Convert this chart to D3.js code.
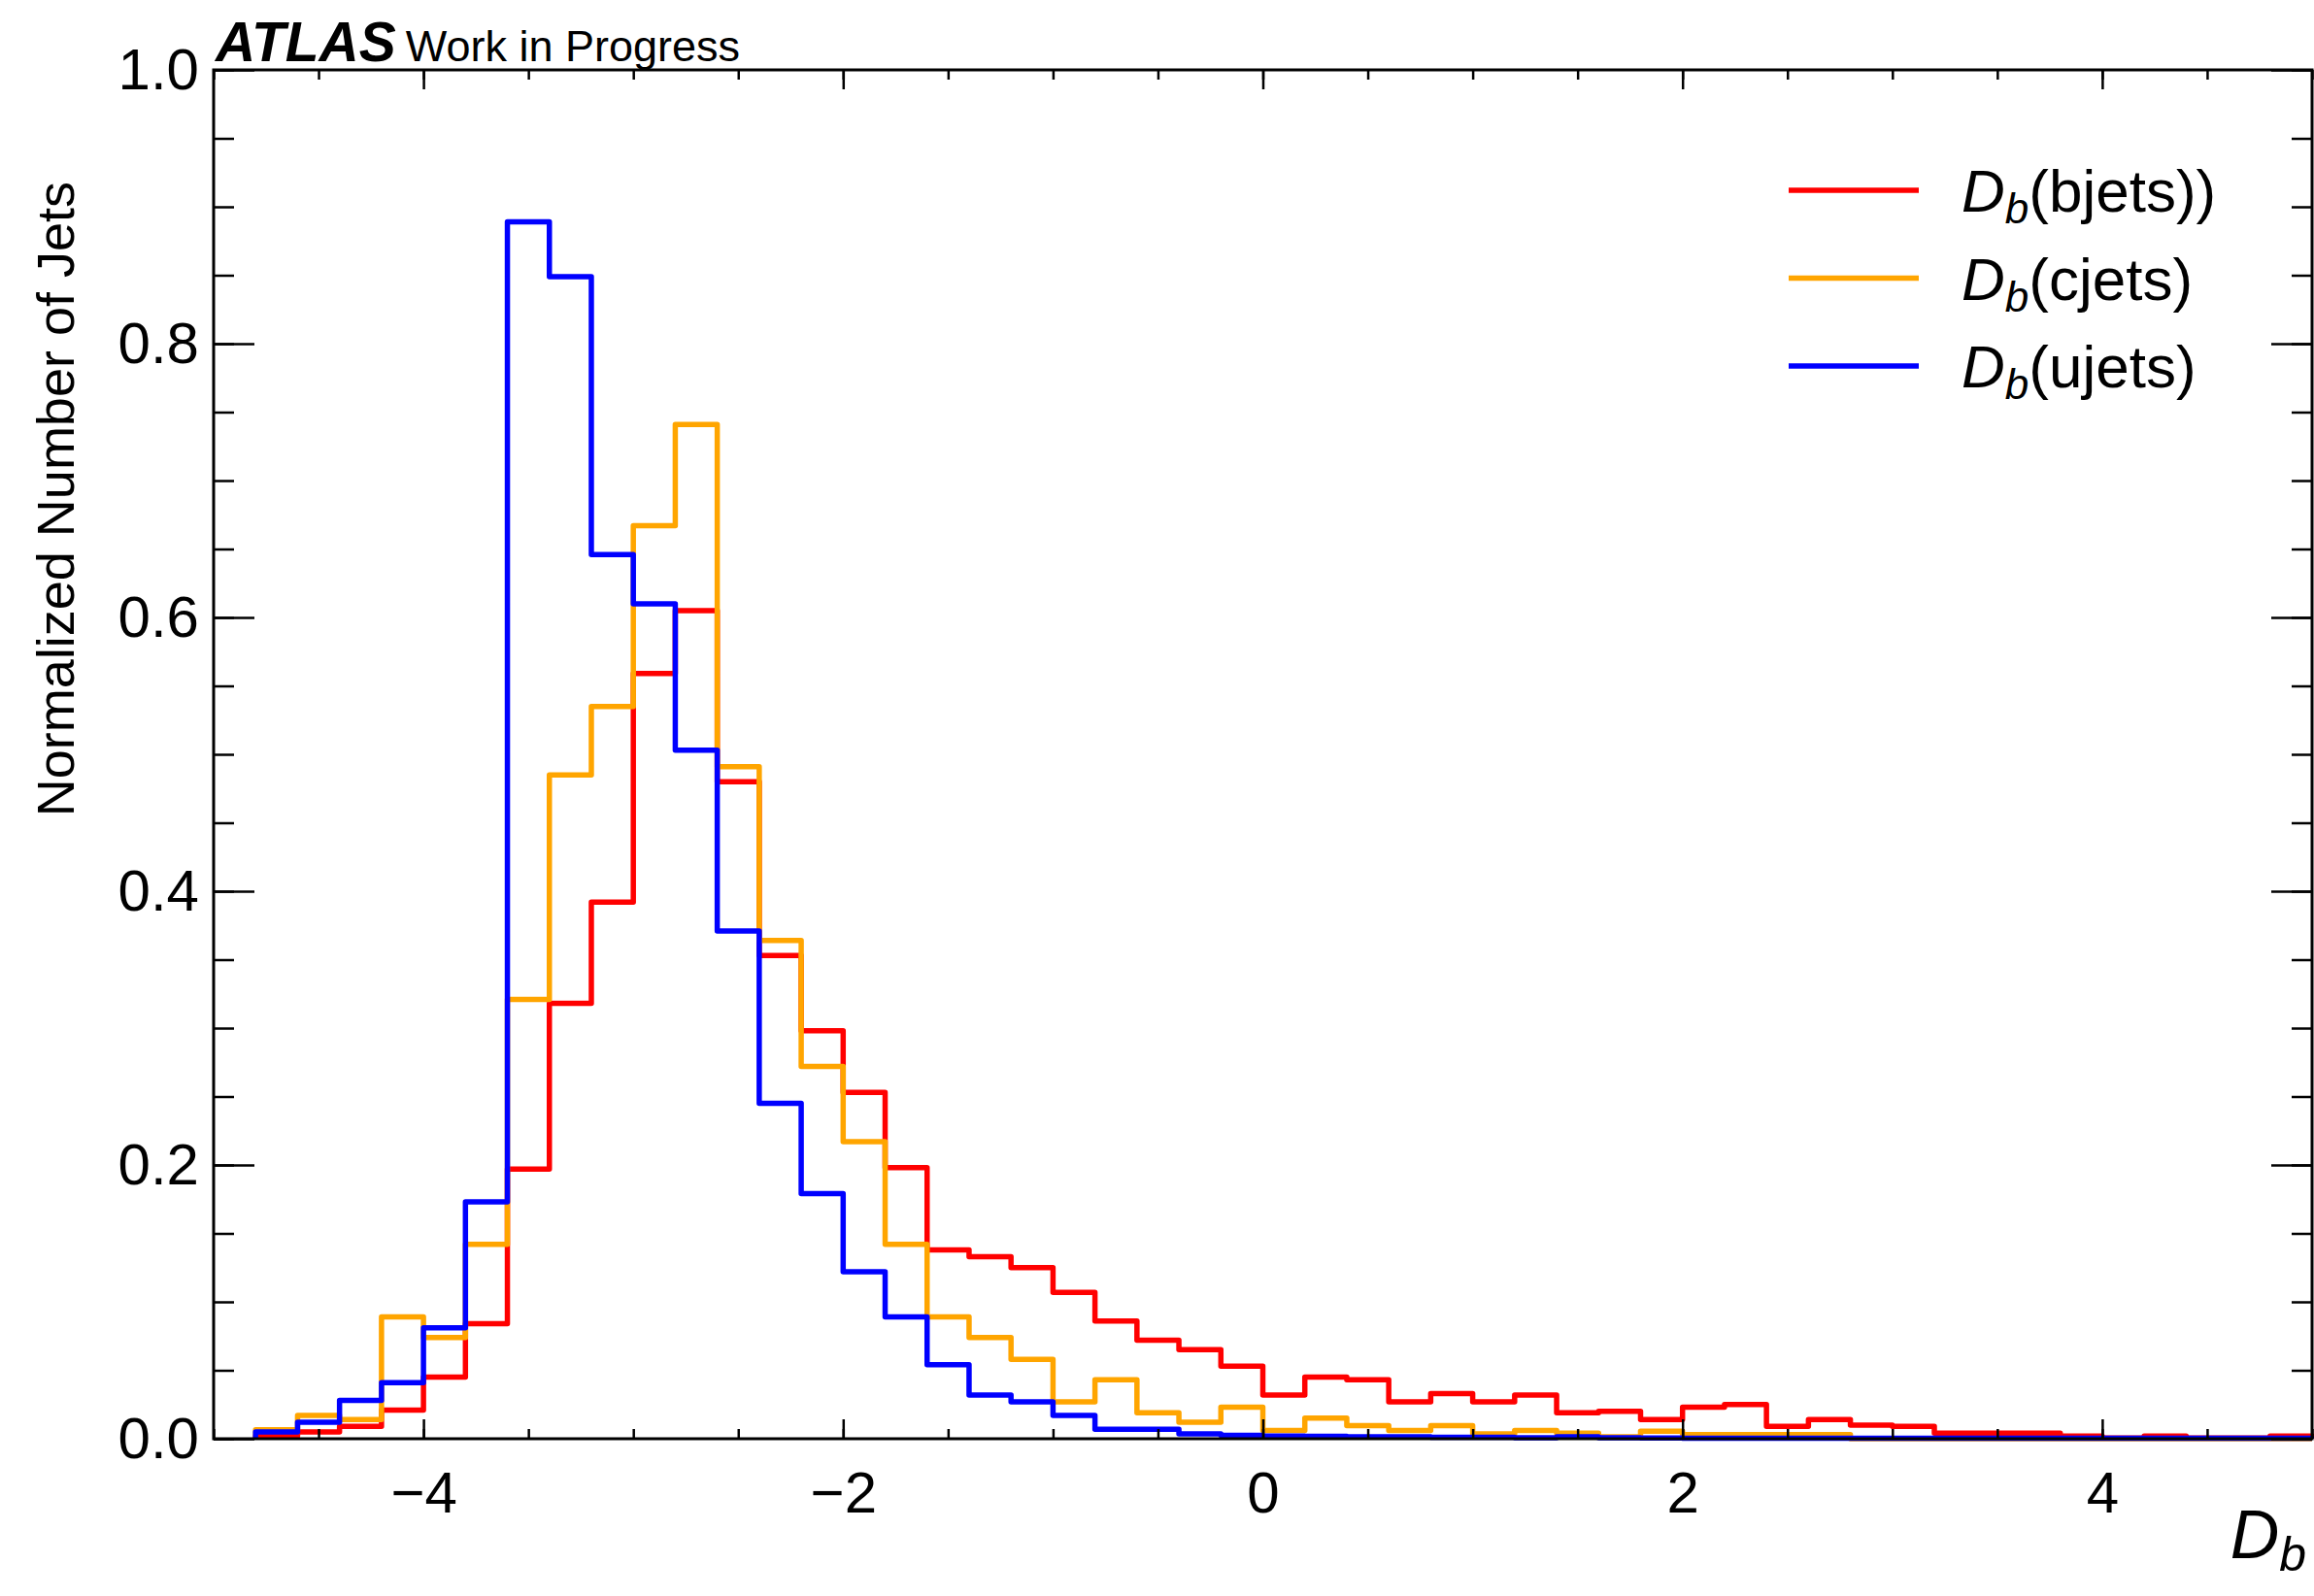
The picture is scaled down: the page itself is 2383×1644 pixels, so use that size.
<!DOCTYPE html>
<html>
<head>
<meta charset="utf-8">
<script src="https://cdn.jsdelivr.net/npm/d3@7"></script>
<style>
  body { margin: 0; background: #fff; }
  svg { display: block; font-family: "Liberation Sans", Arial, Helvetica, sans-serif; }
  .tick line { stroke: #000; stroke-width: 2.5; }
  .tick text { font-size: 60px; fill: #000; }
</style>
</head>
<body>
<svg id="chart" width="2383" height="1644"></svg>
<script>
// bin edges of the D_b histogram
const binEdges = [-4.8, -4.6, -4.4, -4.2, -4.0, -3.8, -3.6, -3.4, -3.2, -3.0,
  -2.8, -2.6, -2.4, -2.2, -2.0, -1.8, -1.6, -1.4, -1.2, -1.0,
  -0.8, -0.6, -0.4, -0.2, 0.0, 0.2, 0.4, 0.6, 0.8, 1.0,
  1.2, 1.4, 1.6, 1.8, 2.0, 2.2, 2.4, 2.6, 2.8, 3.0,
  3.2, 3.4, 3.6, 3.8, 4.0, 4.2, 4.4, 4.6, 4.8, 5.0];

// normalized bin contents
const bjets = [0.002, 0.005, 0.009, 0.021, 0.045, 0.084, 0.197, 0.318, 0.392, 0.559,
  0.605, 0.480, 0.353, 0.298, 0.253, 0.198, 0.138, 0.133, 0.125, 0.107,
  0.086, 0.072, 0.065, 0.053, 0.032, 0.045, 0.043, 0.027, 0.033, 0.027,
  0.032, 0.019, 0.020, 0.014, 0.023, 0.025, 0.009, 0.014, 0.010, 0.009,
  0.004, 0.004, 0.004, 0.002, 0.0005, 0.002, 0.0005, 0.0005, 0.002];

const cjets = [0.0065, 0.017, 0.014, 0.089, 0.074, 0.142, 0.321, 0.485, 0.535, 0.667,
  0.741, 0.491, 0.364, 0.272, 0.217, 0.142, 0.089, 0.074, 0.058, 0.027,
  0.043, 0.019, 0.012, 0.023, 0.006, 0.015, 0.0095, 0.006, 0.0095, 0.0036,
  0.006, 0.004, 0.0015, 0.0055, 0.003, 0.003, 0.003, 0.003, 0, 0,
  0, 0, 0, 0, 0, 0, 0, 0, 0];

const ujets = [0.005, 0.012, 0.028, 0.041, 0.081, 0.173, 0.889, 0.849, 0.646, 0.610,
  0.503, 0.371, 0.245, 0.179, 0.122, 0.089, 0.054, 0.032, 0.027, 0.017,
  0.007, 0.007, 0.0036, 0.0024, 0.002, 0.0017, 0.0014, 0.0014, 0.001, 0.001,
  0.0007, 0.0014, 0.0007, 0.0005, 0.0003, 0.0003, 0.0003, 0.0003, 0.0003, 0.0003,
  0.0003, 0.0003, 0.0003, 0.0003, 0.0003, 0.0003, 0.0003, 0.0003, 0.0003];

const seriesNames = ["bjets)", "cjets", "ujets"];
const seriesColors = ["#ff0000", "#ffa500", "#0000ff"];
const seriesValues = [bjets, cjets, ujets];

const xMajorTicks = [-4, -2, 0, 2, 4];
const yMajorTicks = [0, 0.2, 0.4, 0.6, 0.8, 1.0];

const svg = d3.select("#chart");
const width = +svg.attr("width"), height = +svg.attr("height");
const margin = { top: 72, right: 2, bottom: 162, left: 220 };
const innerW = width - margin.left - margin.right;
const innerH = height - margin.top - margin.bottom;

const g = svg.append("g").attr("transform", `translate(${margin.left},${margin.top})`);

const x = d3.scaleLinear().domain([-5, 5]).range([0, innerW]);
const y = d3.scaleLinear().domain([0, 1]).range([innerH, 0]);

// step outlines
function stepPoints(vals) {
  const pts = [[binEdges[0], 0]];
  vals.forEach((v, i) => {
    pts.push([binEdges[i], v]);
    pts.push([binEdges[i + 1], v]);
  });
  pts.push([binEdges[binEdges.length - 1], 0]);
  return pts;
}
const line = d3.line().x(d => x(d[0])).y(d => y(d[1]));

g.append("g").selectAll("path")
  .data(seriesValues)
  .join("path")
    .attr("d", d => line(stepPoints(d)))
    .attr("fill", "none")
    .attr("stroke", (d, i) => seriesColors[i])
    .attr("stroke-width", 5.5)
    .attr("stroke-linejoin", "round");

// axes (ticks pointing inwards, mirrored on top/right)
const xMinor = d3.range(-5, 5.01, 0.5);
const yMinor = d3.range(0, 1.001, 0.05);
const fmtMinus = d => (d < 0 ? "\u2212" + Math.abs(d) : String(d));

function addAxis(axis, transform) {
  const a = g.append("g").attr("transform", transform).call(axis);
  a.select(".domain").remove();
  return a;
}

addAxis(d3.axisBottom(x).tickValues(xMinor).tickSize(-10).tickFormat(""), `translate(0,${innerH})`);
addAxis(d3.axisBottom(x).tickValues(xMajorTicks).tickSize(-20).tickPadding(33).tickFormat(fmtMinus), `translate(0,${innerH})`);
addAxis(d3.axisTop(x).tickValues(xMinor).tickSize(-10).tickFormat(""), "translate(0,0)");
addAxis(d3.axisTop(x).tickValues(xMajorTicks).tickSize(-20).tickFormat(""), "translate(0,0)");

addAxis(d3.axisLeft(y).tickValues(yMinor).tickSize(-21).tickFormat(""), "translate(0,0)");
addAxis(d3.axisLeft(y).tickValues(yMajorTicks).tickSize(-42).tickPadding(15).tickFormat(d3.format(".1f")), "translate(0,0)");
addAxis(d3.axisRight(y).tickValues(yMinor).tickSize(-21).tickFormat(""), `translate(${innerW},0)`);
addAxis(d3.axisRight(y).tickValues(yMajorTicks).tickSize(-42).tickFormat(""), `translate(${innerW},0)`);

g.append("rect")
  .attr("width", innerW).attr("height", innerH)
  .attr("fill", "none").attr("stroke", "#000").attr("stroke-width", 3);

// legend
const legend = g.append("g").attr("transform", `translate(${1842 - margin.left},${196 - margin.top})`);
seriesNames.forEach((name, i) => {
  const row = legend.append("g").attr("transform", `translate(0,${i * 90.5})`);
  row.append("line").attr("x1", 0).attr("x2", 134)
    .attr("stroke", seriesColors[i]).attr("stroke-width", 5.5);
  const t = row.append("text").attr("x", 178).attr("y", 22).attr("font-size", 62).attr("fill", "#000");
  t.append("tspan").attr("font-style", "italic").text("D");
  t.append("tspan").attr("font-style", "italic").attr("font-size", 44).attr("dy", 12).text("b");
  t.append("tspan").attr("dy", -12).text("(" + name + ")");
});

// axis titles
svg.append("text")
  .attr("transform", `translate(76,187) rotate(-90)`)
  .attr("text-anchor", "end")
  .attr("font-size", 54)
  .text("Normalized Number of Jets");

const xl = svg.append("text")
  .attr("x", width - 8).attr("y", 1605)
  .attr("text-anchor", "end").attr("font-size", 70);
xl.append("tspan").attr("font-style", "italic").text("D");
xl.append("tspan").attr("font-style", "italic").attr("font-size", 50).attr("dy", 13).text("b");

// ATLAS label
const atl = svg.append("text").attr("x", 222).attr("y", 63);
atl.append("tspan").attr("font-weight", "bold").attr("font-style", "italic").attr("font-size", 57).text("ATLAS");
atl.append("tspan").attr("font-size", 45).attr("dx", 10).text("Work in Progress");
</script>
</body>
</html>
